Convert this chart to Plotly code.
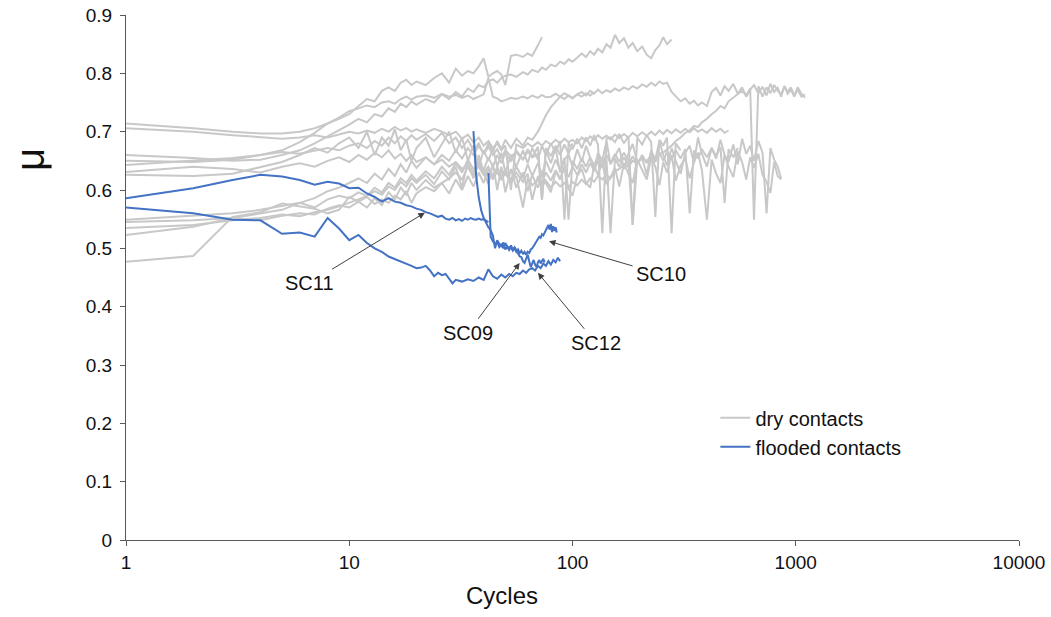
import math
import plotly.graph_objects as go

# Shared cycle grid for the dry-contact runs (log-spaced sampling of the test record)
CYCLES = [
    1, 2, 3, 4, 5, 6, 7, 8, 9, 10,
    11, 12, 13, 14, 15, 16, 17, 18, 19, 20,
    22, 24, 26, 28, 30, 32, 34, 36, 38, 40,
    42, 44, 46, 48, 50, 53, 56, 60, 63, 66,
    70, 73, 76, 80, 84, 88, 92, 96, 100, 105,
    110, 115, 120, 125, 130, 136, 142, 148, 155, 162,
    170, 178, 186, 195, 205, 215, 225, 235, 245, 255,
    265, 278, 290, 305, 320, 335, 350, 365, 380, 400,
    420, 440, 460, 480, 500, 525, 550, 575, 600, 625,
    650, 680, 710, 740, 770, 800, 830, 860, 890, 920,
    950, 985, 1020, 1060, 1100,
]

# Friction coefficient of the dry contacts, one list per run (values follow CYCLES)
dry_1 = [
    0.714, 0.706, 0.700, 0.697, 0.697, 0.700, 0.706, 0.714, 0.724, 0.735,
    0.740, 0.745, 0.742, 0.750, 0.752, 0.748, 0.756, 0.760, 0.755, 0.760,
    0.762, 0.758, 0.765, 0.760, 0.763, 0.758, 0.762, 0.756, 0.760, 0.764,
    0.792, 0.760, 0.757, 0.752, 0.754, 0.758, 0.756, 0.760, 0.757, 0.762,
    0.758, 0.763, 0.759, 0.760, 0.765, 0.760, 0.766, 0.761, 0.757, 0.764,
    0.768, 0.762, 0.770, 0.765, 0.772, 0.766, 0.771, 0.768, 0.774, 0.770,
    0.776, 0.772, 0.778, 0.774, 0.781, 0.777, 0.784, 0.779, 0.786, 0.782,
    0.784, 0.768, 0.760, 0.752, 0.757, 0.748, 0.753, 0.745, 0.750, 0.744,
    0.768, 0.775, 0.762, 0.778, 0.770, 0.782, 0.765, 0.776, 0.760, 0.772,
    0.780, 0.766, 0.777, 0.762, 0.782, 0.768, 0.775, 0.760, 0.778, 0.765,
    0.772, 0.760, 0.776, 0.765, 0.758,
]
dry_2 = [
    0.706, 0.700, 0.694, 0.690, 0.688, 0.690, 0.694, 0.690, 0.695, 0.700,
    0.697, 0.702, 0.698, 0.705, 0.700, 0.708, 0.702, 0.706, 0.700, 0.704,
    0.698, 0.705, 0.700, 0.694, 0.700, 0.688, 0.695, 0.682, 0.690, 0.676,
    0.684, 0.672, 0.680, 0.668, 0.676, 0.600, 0.678, 0.672, 0.680, 0.674,
    0.682, 0.676, 0.684, 0.678, 0.686, 0.680, 0.688, 0.682, 0.686, 0.680,
    0.690, 0.684, 0.692, 0.686, 0.694, 0.688, 0.693, 0.687, 0.695, 0.689,
    0.696, 0.690, 0.698, 0.692, 0.699, 0.693, 0.700, 0.694, 0.702, 0.696,
    0.703, 0.697, 0.704, 0.698, 0.705, 0.699, 0.706, 0.700, 0.704, 0.698,
    0.706, 0.700, 0.705, 0.698, 0.702,
]
dry_3 = [
    0.660, 0.655, 0.650, 0.652, 0.660, 0.668, 0.680, 0.692, 0.702, 0.712,
    0.722, 0.716, 0.730, 0.726, 0.740, 0.734, 0.748, 0.742, 0.752, 0.746,
    0.756, 0.750, 0.764, 0.756, 0.768, 0.760, 0.774, 0.768, 0.780, 0.776,
    0.786, 0.790, 0.784, 0.792, 0.796, 0.798, 0.794, 0.802, 0.798, 0.806,
    0.802, 0.810, 0.806, 0.815, 0.812, 0.820, 0.816, 0.824, 0.820, 0.828,
    0.834, 0.828, 0.838, 0.832, 0.842, 0.836, 0.850, 0.844, 0.866, 0.852,
    0.860, 0.844, 0.852, 0.838, 0.846, 0.832, 0.826, 0.840, 0.848, 0.862,
    0.850, 0.858,
]
dry_4 = [
    0.650, 0.648, 0.652, 0.660, 0.668, 0.682, 0.698, 0.714, 0.722, 0.730,
    0.744, 0.756, 0.752, 0.770, 0.776, 0.770, 0.784, 0.789, 0.780, 0.786,
    0.780, 0.792, 0.800, 0.784, 0.808, 0.796, 0.804, 0.800, 0.812, 0.826,
    0.794, 0.800, 0.804, 0.798, 0.780, 0.830, 0.832, 0.828, 0.834, 0.830,
    0.848, 0.862,
]
dry_5 = [
    0.643, 0.650, 0.655, 0.660, 0.665, 0.662, 0.668, 0.672, 0.668, 0.676,
    0.680, 0.672, 0.684, 0.676, 0.690, 0.680, 0.692, 0.684, 0.694, 0.686,
    0.696, 0.684, 0.698, 0.680, 0.690, 0.672, 0.686, 0.668, 0.680, 0.662,
    0.674, 0.660, 0.670, 0.654, 0.668, 0.658, 0.664, 0.652, 0.666, 0.656,
    0.662, 0.583, 0.668, 0.646, 0.672, 0.630, 0.652, 0.661, 0.640, 0.670,
    0.648, 0.676, 0.655, 0.632, 0.664, 0.650, 0.684, 0.644, 0.658, 0.672,
    0.636, 0.662, 0.679, 0.648, 0.655, 0.626, 0.668, 0.652, 0.684, 0.660,
    0.642, 0.672, 0.650, 0.628, 0.664, 0.676, 0.646, 0.690, 0.662, 0.640,
    0.672, 0.654, 0.686, 0.660, 0.648, 0.678, 0.644, 0.688, 0.662, 0.676,
    0.650, 0.684, 0.664, 0.560, 0.672, 0.652, 0.640, 0.620,
]
dry_6 = [
    0.631, 0.640, 0.636, 0.630, 0.640, 0.646, 0.640, 0.650, 0.656, 0.648,
    0.660, 0.652, 0.664, 0.656, 0.668, 0.654, 0.662, 0.650, 0.660, 0.648,
    0.656, 0.644, 0.652, 0.640, 0.648, 0.636, 0.645, 0.630, 0.640, 0.626,
    0.634, 0.622, 0.630, 0.618, 0.628, 0.614, 0.624, 0.570, 0.620, 0.608,
    0.618, 0.606, 0.616, 0.604, 0.614, 0.606, 0.612, 0.604, 0.614, 0.608,
    0.618, 0.610, 0.620, 0.614, 0.624, 0.618, 0.626, 0.620, 0.632, 0.636,
    0.644, 0.640, 0.650, 0.646, 0.654, 0.650, 0.658, 0.654, 0.662, 0.664,
    0.670, 0.676, 0.684, 0.690, 0.698, 0.702, 0.710, 0.708, 0.716, 0.722,
    0.730, 0.736, 0.744, 0.740, 0.752, 0.758, 0.764, 0.770, 0.762, 0.774,
    0.549, 0.778, 0.760, 0.776, 0.766, 0.780, 0.770, 0.764, 0.778, 0.768,
    0.776, 0.762, 0.772, 0.760, 0.764,
]
dry_7 = [
    0.626, 0.624, 0.628, 0.640, 0.648, 0.660, 0.672, 0.664, 0.680, 0.690,
    0.672, 0.700, 0.660, 0.690, 0.676, 0.704, 0.668, 0.686, 0.650, 0.672,
    0.690, 0.656, 0.680, 0.700, 0.664, 0.690, 0.650, 0.676, 0.640, 0.668,
    0.650, 0.672, 0.640, 0.664, 0.630, 0.660, 0.640, 0.668, 0.646, 0.672,
    0.652, 0.676, 0.660, 0.680, 0.664, 0.684, 0.549, 0.680, 0.670, 0.688,
    0.672, 0.690, 0.676, 0.694, 0.678, 0.526, 0.688, 0.690, 0.682, 0.696,
    0.680, 0.692, 0.540, 0.690, 0.678, 0.694, 0.682, 0.554, 0.686, 0.676,
    0.690, 0.526, 0.680, 0.668,
]
dry_8 = [
    0.549, 0.556, 0.560, 0.566, 0.572, 0.578, 0.570, 0.584, 0.590, 0.586,
    0.596, 0.590, 0.604, 0.596, 0.612, 0.604, 0.620, 0.612, 0.626, 0.616,
    0.632, 0.620, 0.640, 0.626, 0.646, 0.630, 0.652, 0.636, 0.644, 0.630,
    0.640, 0.624, 0.636, 0.620, 0.632, 0.616, 0.630, 0.614, 0.628, 0.583,
    0.624, 0.612, 0.630, 0.616, 0.634, 0.620, 0.638, 0.622, 0.640, 0.626,
    0.644, 0.630, 0.646, 0.634, 0.650, 0.638, 0.652, 0.526, 0.654, 0.640,
    0.656, 0.642, 0.658, 0.644, 0.660, 0.646, 0.662, 0.648, 0.664, 0.650,
    0.666, 0.652, 0.668, 0.654, 0.670, 0.560, 0.668, 0.654, 0.670, 0.656,
    0.672, 0.658, 0.674, 0.578, 0.670, 0.656, 0.672,
]
dry_9 = [
    0.535, 0.540, 0.548, 0.552, 0.558, 0.555, 0.562, 0.566, 0.572, 0.578,
    0.584, 0.590, 0.598, 0.592, 0.606, 0.600, 0.614, 0.606, 0.620, 0.612,
    0.626, 0.610, 0.632, 0.618, 0.640, 0.604, 0.650, 0.620, 0.660, 0.630,
    0.610, 0.646, 0.600, 0.640, 0.596, 0.636, 0.604, 0.630, 0.598, 0.626,
    0.604, 0.628, 0.612, 0.596, 0.632, 0.618, 0.640, 0.602, 0.590, 0.624,
    0.636, 0.612, 0.604, 0.642, 0.626, 0.648, 0.610, 0.622, 0.638, 0.606,
    0.646, 0.628, 0.612, 0.652, 0.636, 0.618, 0.656, 0.640, 0.608, 0.648,
    0.630, 0.660, 0.616, 0.642, 0.654, 0.620, 0.648, 0.664, 0.634, 0.549,
    0.652, 0.628, 0.612, 0.660, 0.640, 0.622, 0.666, 0.648, 0.618, 0.656,
    0.638, 0.662, 0.626, 0.614, 0.595, 0.648, 0.624, 0.618,
]
dry_10 = [
    0.523, 0.537, 0.552, 0.548, 0.556, 0.560, 0.558, 0.568, 0.574, 0.570,
    0.580, 0.588, 0.576, 0.584, 0.578, 0.590, 0.584, 0.598, 0.578, 0.594,
    0.605, 0.598, 0.612, 0.594, 0.618, 0.600, 0.624, 0.606, 0.630, 0.612,
    0.636, 0.618, 0.640, 0.622, 0.636, 0.616, 0.640, 0.620, 0.644, 0.624,
    0.646, 0.626, 0.650, 0.630, 0.652, 0.634, 0.655, 0.549, 0.650, 0.636,
    0.654, 0.640, 0.656, 0.642, 0.658, 0.644, 0.660, 0.646, 0.662, 0.648,
    0.664, 0.650, 0.540, 0.652,
]
dry_11 = [
    0.477, 0.487, 0.554, 0.562, 0.577, 0.572, 0.568, 0.560, 0.566, 0.588,
    0.580, 0.570, 0.586, 0.574, 0.596, 0.584, 0.604, 0.592, 0.612, 0.600,
    0.617, 0.604, 0.612, 0.620, 0.630, 0.618, 0.640, 0.622, 0.650, 0.634,
    0.656, 0.640, 0.660, 0.646, 0.664, 0.650, 0.668, 0.652, 0.670, 0.656,
    0.674, 0.583, 0.672, 0.658, 0.676, 0.660, 0.678, 0.662, 0.680,
]
dry_12 = [
    0.545, 0.548, 0.552, 0.560, 0.566, 0.578, 0.586, 0.598, 0.604, 0.612,
    0.620, 0.612, 0.628, 0.618, 0.636, 0.624, 0.644, 0.630, 0.650, 0.638,
    0.656, 0.644, 0.660, 0.650, 0.668, 0.654, 0.672, 0.660, 0.676, 0.662,
    0.680, 0.666, 0.684, 0.670, 0.686, 0.672, 0.688, 0.676, 0.690, 0.686,
    0.700, 0.714, 0.728, 0.742, 0.752, 0.760, 0.756, 0.762, 0.758, 0.764,
    0.760, 0.766, 0.762, 0.768,
]
DRY_RUNS = [dry_1, dry_2, dry_3, dry_4, dry_5, dry_6, dry_7, dry_8, dry_9, dry_10, dry_11, dry_12]

# Flooded contacts: cycle numbers and friction coefficient per specimen
sc11_cycles = list(range(1, 43))
sc11_mu = [
    0.586, 0.603, 0.617, 0.626, 0.623, 0.617, 0.609, 0.614, 0.611, 0.603,
    0.604, 0.594, 0.588, 0.580, 0.586, 0.580, 0.578, 0.574, 0.572, 0.568,
    0.566, 0.562, 0.560, 0.557, 0.554, 0.556, 0.551, 0.549, 0.552, 0.548,
    0.550, 0.547, 0.551, 0.549, 0.552, 0.550, 0.549, 0.551, 0.549, 0.550,
    0.548, 0.545,
]
sc12_cycles = [
    1, 2, 3, 4, 5, 6, 7, 8, 9, 10,
    11, 12, 13, 14, 15, 16, 17, 18, 19, 20,
    21, 22, 23, 24, 25, 26, 27, 28, 29, 30,
    32, 34, 36, 38, 40, 42, 44, 46, 48, 50,
    52, 54, 56, 58, 60, 62, 64, 66, 68, 70,
    72, 74, 76, 78, 80, 82, 84, 86, 88,
]
sc12_mu = [
    0.570, 0.560, 0.549, 0.548, 0.525, 0.527, 0.520, 0.552, 0.534, 0.514,
    0.523, 0.509, 0.500, 0.494, 0.486, 0.482, 0.478, 0.474, 0.470, 0.466,
    0.467, 0.470, 0.462, 0.452, 0.458, 0.454, 0.456, 0.448, 0.440, 0.446,
    0.443, 0.447, 0.444, 0.450, 0.446, 0.464, 0.452, 0.448, 0.455, 0.450,
    0.456, 0.452, 0.458, 0.456, 0.462, 0.458, 0.464, 0.466, 0.462, 0.470,
    0.466, 0.474, 0.470, 0.478, 0.472, 0.480, 0.476, 0.484, 0.478,
]
sc10_cycles = list(range(36, 86))
sc10_mu = [
    0.701, 0.625, 0.588, 0.565, 0.552, 0.543, 0.536, 0.531, 0.522, 0.500,
    0.514, 0.508, 0.504, 0.510, 0.498, 0.503, 0.497, 0.502, 0.496, 0.500,
    0.494, 0.498, 0.492, 0.496, 0.490, 0.494, 0.489, 0.494, 0.492, 0.498,
    0.500, 0.504, 0.508, 0.512, 0.516, 0.520, 0.518, 0.524, 0.522, 0.526,
    0.530, 0.534, 0.540, 0.532, 0.542, 0.528, 0.538, 0.530, 0.536, 0.527,
]
sc09_cycles = list(range(42, 76))
sc09_mu = [
    0.629, 0.520, 0.512, 0.508, 0.511, 0.502, 0.506, 0.500, 0.509, 0.503,
    0.500, 0.505, 0.498, 0.502, 0.497, 0.490, 0.486, 0.485, 0.478, 0.475,
    0.484, 0.489, 0.478, 0.468, 0.474, 0.480, 0.472, 0.468, 0.476, 0.480,
    0.474, 0.478, 0.482, 0.476,
]

# Callout labels: name, arrow target (cycle, mu), label offset in px
label_names = ["SC11", "SC10", "SC09", "SC12"]
label_cycles = [21.8, 78.5, 58.0, 70.0]
label_mu = [0.561, 0.512, 0.475, 0.458]
label_dx = [-115, 112, -52, 58]
label_dy = [70, 33, 70, 70]

# Axis ticks
x_ticks = [1, 10, 100, 1000, 10000]
y_ticks = [0, 0.1, 0.2, 0.3, 0.4, 0.5, 0.6, 0.7, 0.8, 0.9]

GREY = "#C8C8C8"
BLUE = "#4472C4"
AXIS = "#595959"
TEXT = "#111111"
FONT = "Liberation Sans, Arial, sans-serif"

fig = go.Figure()

for i, run in enumerate(DRY_RUNS):
    fig.add_trace(go.Scatter(
        x=CYCLES[:len(run)], y=run, mode="lines",
        line=dict(color=GREY, width=2),
        name="dry contacts", legendgroup="dry", showlegend=(i == 0),
        hoverinfo="skip",
    ))

flooded = [(sc11_cycles, sc11_mu), (sc12_cycles, sc12_mu),
           (sc10_cycles, sc10_mu), (sc09_cycles, sc09_mu)]
for i, (cx, mu) in enumerate(flooded):
    fig.add_trace(go.Scatter(
        x=cx, y=mu, mode="lines",
        line=dict(color=BLUE, width=2),
        name="flooded contacts", legendgroup="flooded", showlegend=(i == 0),
        hoverinfo="skip",
    ))

for name, cx, mu, dx, dy in zip(label_names, label_cycles, label_mu, label_dx, label_dy):
    fig.add_annotation(
        x=math.log10(cx), y=mu, xref="x", yref="y",
        text=name, showarrow=True, ax=dx, ay=dy,
        arrowhead=2, arrowsize=1.3, arrowwidth=1, arrowcolor="#404040",
        standoff=0, startstandoff=2,
        font=dict(family=FONT, size=20, color=TEXT),
    )

# Axis titles placed as text: "Cycles" under the axis, μ high on the left side
fig.add_annotation(
    x=0.421, y=-0.105, xref="paper", yref="paper",
    xanchor="center", yanchor="middle",
    text="Cycles", showarrow=False,
    font=dict(family=FONT, size=24, color=TEXT),
)
fig.add_annotation(
    x=-0.1075, y=0.724, xref="paper", yref="paper",
    xanchor="center", yanchor="middle",
    text="μ", textangle=-90, showarrow=False,
    font=dict(family=FONT, size=40, color=TEXT),
)

fig.update_layout(
    width=1051, height=617,
    margin=dict(l=126, r=32, t=15, b=77),
    paper_bgcolor="white", plot_bgcolor="white",
    font=dict(family=FONT, size=19, color=TEXT),
    showlegend=True,
    legend=dict(
        x=0.660, y=0.270, xanchor="left", yanchor="top",
        bgcolor="rgba(0,0,0,0)", borderwidth=0,
        font=dict(family=FONT, size=20, color=TEXT),
        tracegroupgap=0, itemwidth=30,
    ),
)

fig.update_xaxes(
    type="log", range=[0, 4], automargin=False,
    tickvals=x_ticks, ticktext=[str(v) for v in x_ticks],
    ticks="outside", ticklen=5, tickcolor=AXIS, tickwidth=1,
    tickfont=dict(family=FONT, size=19, color=TEXT),
    showline=True, linecolor=AXIS, linewidth=1,
    showgrid=False, zeroline=False,
)
fig.update_yaxes(
    range=[0, 0.9], automargin=False,
    tickvals=y_ticks, ticktext=[("%g" % v) for v in y_ticks],
    ticks="outside", ticklen=5, tickcolor=AXIS, tickwidth=1,
    tickfont=dict(family=FONT, size=19, color=TEXT),
    ticklabelstandoff=4,
    showline=True, linecolor=AXIS, linewidth=1,
    showgrid=False, zeroline=False,
)

fig.write_html("out.html")
